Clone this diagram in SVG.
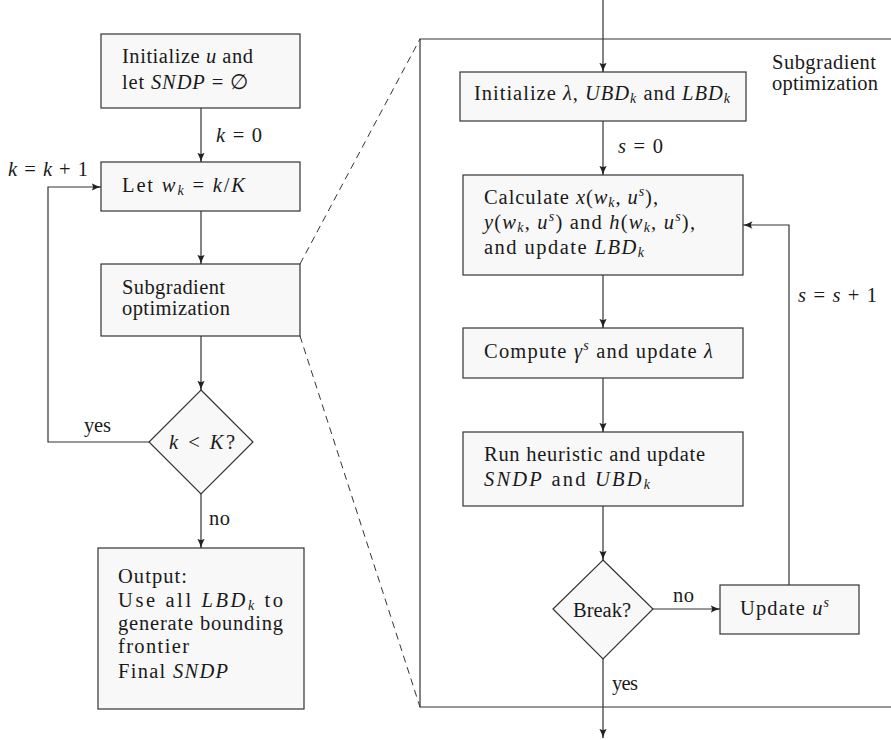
<svg xmlns="http://www.w3.org/2000/svg" width="891" height="740" viewBox="0 0 891 740">
<style>
.t{font-family:"Liberation Serif","Times New Roman",serif;font-size:20.5px;fill:#1a1a1a}
.i{font-style:italic}
.s{font-size:14px}
.box{fill:#f8f8f8;stroke:#333;stroke-width:1.2}
.ln{fill:none;stroke:#333;stroke-width:1.2}
.dash{fill:none;stroke:#333;stroke-width:1;stroke-dasharray:7 5}
</style>
<defs>
<marker id="ah" viewBox="0 0 10 10" refX="9.5" refY="5" markerWidth="10" markerHeight="10" markerUnits="userSpaceOnUse" orient="auto">
<path d="M0,1.2 Q5,4 10,5 Q5,6 0,8.8 Q3,5 0,1.2 Z" fill="#222"/>
</marker>
</defs>
<rect width="891" height="740" fill="#fff"/>

<g id="connectors">
<line class="ln" x1="201" y1="108" x2="201" y2="162" marker-end="url(#ah)"/>
<line class="ln" x1="201" y1="211" x2="201" y2="264" marker-end="url(#ah)"/>
<line class="ln" x1="201" y1="336" x2="201" y2="390" marker-end="url(#ah)"/>
<line class="ln" x1="201" y1="494" x2="201" y2="548" marker-end="url(#ah)"/>
<path class="ln" d="M149,442 H48 V187 H101" marker-end="url(#ah)"/>
<line class="dash" x1="300" y1="264" x2="420" y2="39"/>
<line class="dash" x1="300" y1="336" x2="420" y2="707"/>
<path class="ln" d="M891,39 H420 V707 H891"/>
<line class="ln" x1="603" y1="0" x2="603" y2="72" marker-end="url(#ah)"/>
<line class="ln" x1="603" y1="121" x2="603" y2="175" marker-end="url(#ah)"/>
<line class="ln" x1="603" y1="275" x2="603" y2="328" marker-end="url(#ah)"/>
<line class="ln" x1="603" y1="378" x2="603" y2="432" marker-end="url(#ah)"/>
<line class="ln" x1="603" y1="506" x2="603" y2="560" marker-end="url(#ah)"/>
<line class="ln" x1="653" y1="609" x2="720" y2="609" marker-end="url(#ah)"/>
<path class="ln" d="M789,585 V225 H743" marker-end="url(#ah)"/>
<line class="ln" x1="603" y1="659" x2="603" y2="738" marker-end="url(#ah)"/>
<text class="t" x="216" y="142" textLength="46"><tspan class="i">k</tspan> = 0</text>
<text class="t" x="8" y="176" textLength="80"><tspan class="i">k</tspan> = <tspan class="i">k</tspan> + 1</text>
<text class="t" x="84" y="432" textLength="27">yes</text>
<text class="t" x="209" y="525" textLength="21">no</text>
<text class="t" x="618" y="153" textLength="45"><tspan class="i">s</tspan> = 0</text>
<text class="t" x="798" y="302" textLength="79"><tspan class="i">s</tspan> = <tspan class="i">s</tspan> + 1</text>
<text class="t" x="673" y="602" textLength="21">no</text>
<text class="t" x="612" y="690" textLength="26">yes</text>
</g>

<g id="frame-label">
<text class="t" x="772" y="69" textLength="104">Subgradient</text>
<text class="t" x="772" y="90" textLength="106">optimization</text>
</g>

<g id="init">
<rect class="box" x="101" y="34" width="199" height="74"/>
<text class="t" x="122" y="63" textLength="131">Initialize <tspan class="i">u</tspan> and</text>
<text class="t" x="122" y="89" textLength="126">let <tspan class="i">SNDP</tspan> = ∅</text>
</g>

<g id="letw">
<rect class="box" x="101" y="162" width="199" height="49"/>
<text class="t" x="122" y="192" textLength="123">Let <tspan class="i">w</tspan><tspan class="s i" dy="3">k</tspan><tspan dy="-3"> = </tspan><tspan class="i">k</tspan>/<tspan class="i">K</tspan></text>
</g>

<g id="subgrad">
<rect class="box" x="101" y="264" width="199" height="72"/>
<text class="t" x="122" y="294" textLength="103">Subgradient</text>
<text class="t" x="122" y="315" textLength="108">optimization</text>
</g>

<g id="cond">
<polygon class="box" points="201,390 253,442 201,494 149,442"/>
<text class="t" x="169" y="449" textLength="66"><tspan class="i">k</tspan> &lt; <tspan class="i">K</tspan>?</text>
</g>

<g id="output">
<rect class="box" x="98" y="548" width="206" height="161"/>
<text class="t" x="118" y="583" textLength="69">Output:</text>
<text class="t" x="118" y="607" textLength="165">Use all <tspan class="i">LBD</tspan><tspan class="s i" dy="3">k</tspan><tspan dy="-3"> to</tspan></text>
<text class="t" x="118" y="630" textLength="165">generate bounding</text>
<text class="t" x="118" y="653" textLength="71">frontier</text>
<text class="t" x="118" y="678" textLength="110">Final <tspan class="i">SNDP</tspan></text>
</g>

<g id="initlambda">
<rect class="box" x="460" y="72" width="286" height="49"/>
<text class="t" x="474" y="100" textLength="256">Initialize <tspan class="i">λ</tspan>, <tspan class="i">UBD</tspan><tspan class="s i" dy="3">k</tspan><tspan dy="-3"> and </tspan><tspan class="i">LBD</tspan><tspan class="s i" dy="3">k</tspan></text>
</g>

<g id="calc">
<rect class="box" x="463" y="175" width="280" height="100"/>
<text class="t" x="484" y="204" textLength="174">Calculate <tspan class="i">x</tspan>(<tspan class="i">w</tspan><tspan class="s i" dy="3">k</tspan><tspan dy="-3">, </tspan><tspan class="i">u</tspan><tspan class="s i" dy="-8">s</tspan><tspan dy="8">),</tspan></text>
<text class="t" x="484" y="229" textLength="211"><tspan class="i">y</tspan>(<tspan class="i">w</tspan><tspan class="s i" dy="3">k</tspan><tspan dy="-3">, </tspan><tspan class="i">u</tspan><tspan class="s i" dy="-8">s</tspan><tspan dy="8">) and </tspan><tspan class="i">h</tspan>(<tspan class="i">w</tspan><tspan class="s i" dy="3">k</tspan><tspan dy="-3">, </tspan><tspan class="i">u</tspan><tspan class="s i" dy="-8">s</tspan><tspan dy="8">),</tspan></text>
<text class="t" x="484" y="254" textLength="160">and update <tspan class="i">LBD</tspan><tspan class="s i" dy="3">k</tspan></text>
</g>

<g id="compute">
<rect class="box" x="463" y="328" width="280" height="50"/>
<text class="t" x="484" y="358" textLength="229">Compute <tspan class="i">γ</tspan><tspan class="s i" dy="-8">s</tspan><tspan dy="8"> and update </tspan><tspan class="i">λ</tspan></text>
</g>

<g id="heuristic">
<rect class="box" x="463" y="432" width="280" height="74"/>
<text class="t" x="484" y="461" textLength="221">Run heuristic and update</text>
<text class="t" x="484" y="486" textLength="166"><tspan class="i">SNDP</tspan> and <tspan class="i">UBD</tspan><tspan class="s i" dy="3">k</tspan></text>
</g>

<g id="break">
<polygon class="box" points="603,560 653,609 603,659 553,609"/>
<text class="t" x="573" y="617" textLength="58">Break?</text>
</g>

<g id="updateu">
<rect class="box" x="720" y="585" width="139" height="49"/>
<text class="t" x="740" y="615" textLength="89">Update <tspan class="i">u</tspan><tspan class="s i" dy="-8">s</tspan></text>
</g>
</svg>
